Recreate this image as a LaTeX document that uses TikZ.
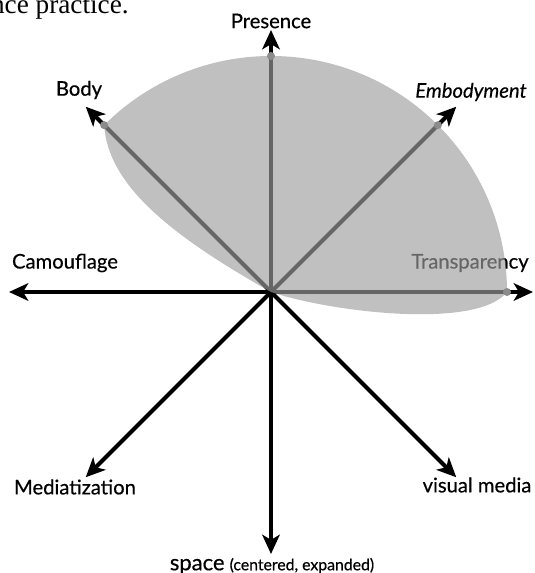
\documentclass[tikz,border=0pt]{standalone}
\usepackage{fontspec}
\setmainfont{Lato}
\newfontfamily\axisfont{Lato}[FakeBold=0.5]
\newfontfamily\captionserif{Liberation Serif}
\usetikzlibrary{arrows.meta}
\definecolor{leafgrey}{gray}{0.62}
\definecolor{dotgrey}{gray}{0.55}

\begin{document}
\begin{tikzpicture}[x=0.02cm,y=0.02cm]
        \tikzset{axis/.style = {line width=2.3pt,-{Stealth[length=11pt,width=10pt,inset=3pt]}}}
        \tikzset{axislabel/.style = {inner sep=0pt,font=\axisfont\fontsize{11.5}{13}\selectfont}}
        \tikzset{knot/.style = {shape=circle,fill=dotgrey,inner sep=0pt,minimum size=0.16cm}}
        \useasboundingbox (-271,-281) rectangle (263,292);

        % cut-off line of the running text above
        \node[anchor=base east,inner sep=0pt,font=\captionserif\fontsize{15.5}{17}\selectfont] (caption) at (-142,278) {nce practice.};

        \coordinate (c) at (0,0);
        \coordinate (tN) at (90:262);
        \coordinate (tNE) at (45:262);
        \coordinate (tE) at (0:262);
        \coordinate (tNW) at (135:262);
        \coordinate (tW) at (180:262);
        \coordinate (tSW) at (225:262);
        \coordinate (tS) at (270:262);
        \coordinate (tSE) at (315:262);

        \draw[axis] (c) -- (tN);
        \draw[axis] (c) -- (tNE);
        \draw[axis] (c) -- (tE);
        \draw[axis] (c) -- (tNW);
        \draw[axis] (c) -- (tW);
        \draw[axis] (c) -- (tSW);
        \draw[axis] (c) -- (tS);
        \draw[axis] (c) -- (tSE);

        \node[axislabel] (presence) at (0,271) {Presence};
        \node[axislabel] (body) at (-192,202) {Body};
        \node[axislabel,font=\axisfont\itshape\fontsize{11.5}{13}\selectfont] (embodyment) at (200,200) {Embodyment};
        \node[axislabel] (camouflage) at (-206,29) {Camouflage};
        \node[axislabel] (transparency) at (199,29) {Transparency};
        \node[axislabel] (mediatization) at (-196,-195) {Mediatization};
        \node[axislabel] (visual) at (206,-193) {visual media};
        \node[axislabel] (space) at (1,-274) {{\fontsize{12.5}{14}\selectfont space}\ {\fontsize{9}{11}\selectfont (centered, expanded)}};

        % the shaded leaf over the upper axes
        \fill[leafgrey,fill opacity=0.65] (0:236) arc[start angle=0,end angle=135,radius=236]
            .. controls (-163,107) and (-101,57) .. (0,0)
            .. controls (59,-20) and (206,-38) .. (0:236) -- cycle;

        \node[knot] (kT) at (0:236) {};
        \node[knot] (kE) at (45:236) {};
        \node[knot] (kP) at (90:236) {};
        \node[knot] (kB) at (135:236) {};
      \end{tikzpicture}
\end{document}
